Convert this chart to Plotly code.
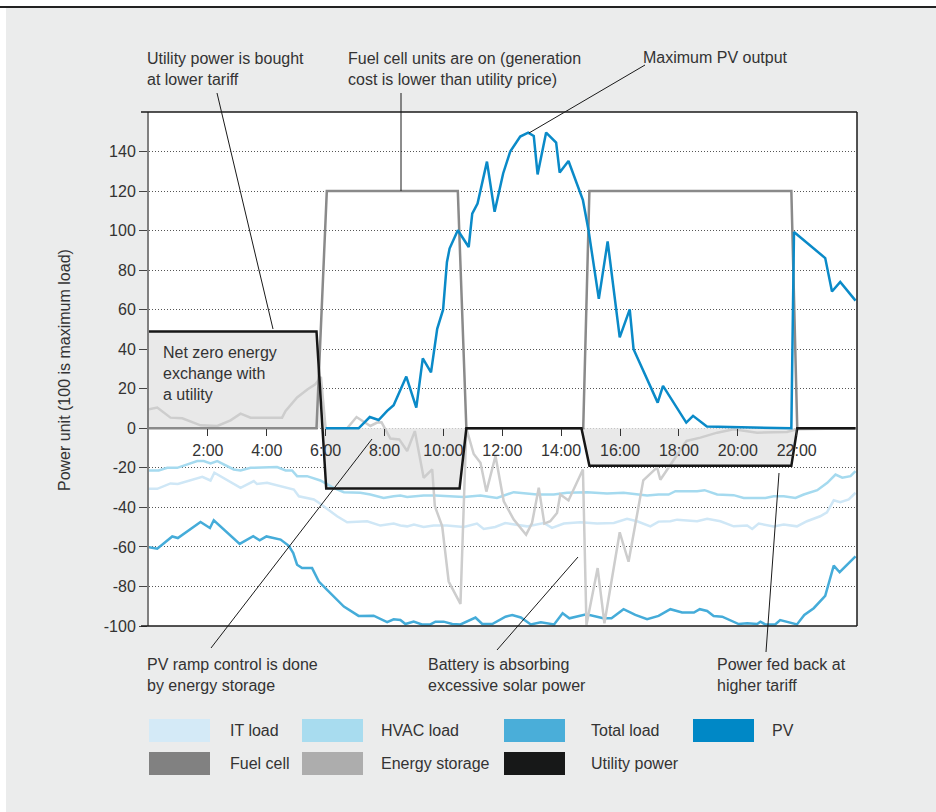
import plotly.graph_objects as go

# ---------------- data (hours, power units) ----------------
it_t = [0, 0.28, 0.73, 0.98, 1.81, 2.09, 2.22, 3.11, 3.56, 3.67, 4.01, 4.52, 4.92, 5.09, 5.6, 5.82, 6.39, 6.73,
        7.41, 7.86, 8.31, 8.54, 8.77, 9.0, 9.33, 9.67, 10.12, 10.69, 11.14, 11.37, 11.76, 12.1, 12.39, 12.84,
        13.41, 13.69, 14.09, 14.65, 15.22, 15.79, 16.24, 16.58, 17.03, 17.31, 17.71, 17.94, 18.62, 18.96, 19.41,
        19.86, 20.32, 20.49, 20.71, 21.22, 21.56, 22.01, 22.35, 22.8, 23.03, 23.26, 23.48, 23.77, 24.0]
it_v = [-30.6, -30.6, -27.9, -28.2, -24.5, -26.4, -22.5, -30.1, -26.7, -28.2, -27.6, -29.3, -31, -34.4, -36, -38.2,
        -44.5, -47.5, -47, -49.2, -48.2, -49.2, -49.6, -48.7, -49.9, -49.2, -49.2, -49.9, -48.2, -50.9, -49.9,
        -47.9, -48.7, -49.6, -47.9, -50.4, -48.2, -47.5, -48.2, -47.9, -45.8, -47, -49.6, -47.2, -47, -46.2, -47,
        -45.8, -47, -49.6, -49.2, -50.9, -48.2, -49.6, -48.7, -49.6, -47, -44.5, -42.5, -36.4, -37.4, -36, -32.6]

hvac_t = [0, 0.33, 0.62, 0.96, 1.64, 1.86, 2.09, 2.32, 2.88, 3.11, 3.45, 4.35, 4.64, 4.86, 5.03, 5.37, 5.82, 6.27,
          6.62, 7.18, 7.52, 7.97, 8.31, 8.54, 8.77, 9.33, 9.73, 10.69, 11.26, 11.82, 12.39, 13.18, 13.75, 14.2,
          14.88, 15.56, 16.12, 16.41, 16.92, 17.31, 17.65, 17.88, 18.62, 18.87, 19.3, 19.86, 20.2, 20.94, 21.22,
          21.56, 21.96, 22.24, 22.7, 23.04, 23.32, 23.55, 23.83, 24.0]
hvac_v = [-21.3, -21.3, -20, -20, -16.6, -16.6, -17.8, -16.6, -20.8, -21.3, -20, -19.6, -21.3, -21.3, -24.2, -24.2,
          -26.4, -30.1, -32.3, -32.6, -33.5, -35.2, -34.4, -34, -34.7, -34, -34, -34.7, -34, -35.2, -32.3, -33.5,
          -33.5, -32.6, -32.3, -33, -32.6, -33, -34, -33.5, -33.5, -31.8, -31.8, -31.3, -33.5, -33.8, -35.2, -35.2,
          -34.4, -34.4, -35.2, -33.5, -31.3, -27.6, -23.4, -25, -24.2, -21.7]

total_t = [0, 0.28, 0.79, 0.98, 1.75, 2.07, 2.2, 3.08, 3.54, 3.76, 3.99, 4.47, 4.75, 4.9, 5.03, 5.2, 5.54, 5.77,
           6.05, 6.62, 7.12, 7.63, 8.09, 8.31, 8.54, 8.71, 8.99, 9.27, 9.56, 9.73, 10.01, 10.3, 10.58, 11.09,
           11.32, 11.66, 12.11, 12.34, 12.63, 12.97, 13.31, 13.76, 14.05, 14.28, 14.86, 15.43, 15.71, 16.12,
           16.52, 16.92, 17.31, 17.71, 18.11, 18.51, 18.71, 18.96, 19.18, 19.47, 20.03, 20.32, 20.66, 20.77,
           20.93, 21.27, 21.44, 22.01, 22.26, 22.58, 22.97, 23.26, 23.46, 24.0]
total_v = [-60.2, -60.9, -54.7, -55.5, -47.4, -50.4, -46.5, -58.5, -54.6, -56.7, -54.7, -56.3, -59.4, -63.1, -69,
           -70.7, -70.7, -77.5, -81.7, -90.2, -94.9, -94.8, -98.1, -96.6, -97, -99, -97.8, -99.2, -99.2, -97.8,
           -97.8, -99, -99.2, -95.7, -99, -99, -95.3, -94.4, -95.7, -99.2, -98.1, -99.2, -93.6, -96.1, -94.1,
           -96.1, -96.1, -91.5, -94.4, -96.6, -94.9, -91.5, -93.2, -93.2, -91.5, -92.4, -94.9, -95.3, -99, -98.6,
           -99, -97.8, -99.2, -99.2, -97, -99.2, -94.4, -91, -84.8, -69.5, -72.8, -64.8]

pv_t = [6.0, 7.12, 7.5, 7.8, 8.09, 8.31, 8.74, 9.08, 9.3, 9.58, 9.79, 9.99, 10.12, 10.21, 10.49, 10.86, 10.98,
        11.16, 11.48, 11.74, 12.03, 12.27, 12.61, 12.88, 13.07, 13.2, 13.49, 13.83, 13.95, 14.25, 14.74, 14.93,
        15.28, 15.58, 15.99, 16.33, 16.46, 17.28, 17.46, 18.25, 18.48, 18.95, 21.82, 21.91, 22.97, 23.2, 23.48,
        24.0]
pv_v = [0, 0, 5.7, 4.2, 8.8, 11.7, 26.2, 10.5, 35.4, 28.3, 50.3, 60, 84, 90.9, 100.2, 91.7, 108.6, 113.7, 134.9,
        109.5, 128.9, 140, 147.6, 149.6, 147.9, 128.4, 149.6, 144.5, 129.4, 135.2, 115.4, 100.2, 65.5, 94.5, 46,
        60.2, 40, 13, 21.5, 2.9, 6.3, 0.9, 0, 99.3, 86.1, 69.2, 74, 64.6]

storage_t = [0, 0.28, 0.73, 1.13, 1.75, 2.32, 2.77, 3.11, 3.45, 3.9, 4.52, 4.64, 5.03, 5.39, 5.54, 5.65, 5.84,
             6.0, 6.73, 7.05, 7.52, 7.75, 7.9, 8.2, 8.5, 8.77, 9.03, 9.33, 9.62, 9.71, 9.96, 10.18, 10.58, 10.78,
             11.03, 11.26, 11.46, 11.77, 12.05, 12.39, 12.81, 13.01, 13.24, 13.43, 13.63, 13.86, 13.97, 14.25,
             14.74, 14.86, 15.24, 15.47, 15.99, 16.29, 16.79, 17.26, 17.37, 17.91, 18.26, 18.73, 19.3, 19.86,
             20.66, 21.67, 22.01, 24.0]
storage_v = [9.6, 10.5, 5.4, 5.1, 1.5, 1.2, 4, 7.4, 5.4, 5.4, 5.4, 8.8, 15.6, 19.8, 21.5, 22.3, 26, 0, 0, 5.7,
             1.2, 2.9, 3, -5.2, -5.6, -11.5, -1.4, -25, -20.8, -39.4, -49.6, -77.5, -88.8, 0, -13, -17.4, -32,
             -14, -36.9, -46.2, -53.8, -47.9, -30.1, -48.2, -47, -42.8, -33.5, -36.5, -20.8, -99.5, -70.7, -98.6,
             -52.6, -67.5, -26.3, -19.8, -26, -14, -6.4, -4.7, -2.2, -0.5, -2.2, -1.9, -0.5, 0]

fuel_t = [0, 5.69, 6.04, 10.49, 10.78, 14.75, 14.96, 21.82, 22.02, 24.0]
fuel_v = [0, 0, 120, 120, 0, 0, 120, 120, 0, 0]

utility_t = [0, 5.69, 6.02, 10.55, 10.78, 14.69, 14.96, 21.82, 22.02, 24.0]
utility_v = [49, 49, -30.5, -30.5, 0, 0, -19, -19, 0, 0]

tick_hours = [2, 4, 6, 8, 10, 12, 14, 16, 18, 20, 22]
tick_labels = ["2:00", "4:00", "6:00", "8:00", "10:00", "12:00", "14:00", "16:00", "18:00", "20:00", "22:00"]
y_ticks = [-100, -80, -60, -40, -20, 0, 20, 40, 60, 80, 100, 120, 140]
y_tick_labels = ["-100", "-80", "-60", "-40", "-20", "0", "20", "40", "60", "80", "100", "120", "140"]

legend_names = ["IT load", "HVAC load", "Total load", "PV", "Fuel cell", "Energy storage", "Utility power"]
legend_colors = ["#d4eaf7", "#a8dcef", "#4aaed9", "#0088c6", "#818181", "#adadad", "#171818"]

# ---------------- layout helpers (pixel -> paper) ----------------
W, H = 936, 812
L, R, T, B = 149, 857, 112, 626


def px(x):
    return (x - L) / (R - L)


def py(y):
    return (B - y) / (B - T)


FONT = "Liberation Sans, Arial, sans-serif"
TXT = "#333333"

fig = go.Figure()

# fill of utility exchange
fig.add_trace(go.Scatter(x=utility_t, y=utility_v, mode="lines", fill="tozeroy",
                         fillcolor="#e9e9e9", line=dict(width=0), hoverinfo="skip"))
line_w = 2.5
fig.add_trace(go.Scatter(x=it_t, y=it_v, mode="lines", line=dict(color="#cfe7f6", width=line_w)))
fig.add_trace(go.Scatter(x=hvac_t, y=hvac_v, mode="lines", line=dict(color="#a5daef", width=line_w)))
fig.add_trace(go.Scatter(x=total_t, y=total_v, mode="lines", line=dict(color="#45acd9", width=line_w)))
fig.add_trace(go.Scatter(x=storage_t, y=storage_v, mode="lines", line=dict(color="#cdcdcd", width=line_w)))
fig.add_trace(go.Scatter(x=fuel_t, y=fuel_v, mode="lines", line=dict(color="#8a8a8a", width=line_w)))
fig.add_trace(go.Scatter(x=pv_t, y=pv_v, mode="lines", line=dict(color="#0a8ac8", width=line_w)))
fig.add_trace(go.Scatter(x=utility_t, y=utility_v, mode="lines", line=dict(color="#161616", width=line_w)))

shapes = []
# white strips outside the gray panel
shapes.append(dict(type="rect", xref="paper", yref="paper", x0=px(0), x1=px(W), y0=py(0), y1=py(7),
                   fillcolor="white", line=dict(width=0), layer="below"))
shapes.append(dict(type="rect", xref="paper", yref="paper", x0=px(0), x1=px(6), y0=py(0), y1=py(H),
                   fillcolor="white", line=dict(width=0), layer="below"))
shapes.append(dict(type="line", xref="paper", yref="paper", x0=px(0), x1=px(W), y0=py(7), y1=py(7),
                   line=dict(color="#222222", width=2)))
# frame
shapes.append(dict(type="line", xref="paper", yref="paper", x0=px(141), x1=1, y0=1, y1=1,
                   line=dict(color="#1a1a1a", width=1.5)))
shapes.append(dict(type="line", xref="paper", yref="paper", x0=px(141), x1=1, y0=0, y1=0,
                   line=dict(color="#1a1a1a", width=1.5)))
shapes.append(dict(type="line", xref="paper", yref="paper", x0=1, x1=1, y0=0, y1=1,
                   line=dict(color="#1a1a1a", width=1.5)))
# leader lines
leaders = [((217, 93), (273, 329)), ((401, 93), (401, 191)), ((645, 65), (529, 133)),
           ((211, 648), (372, 439)), ((497, 650), (578, 557)), ((766, 652), (779, 473))]
for (x0, y0), (x1, y1) in leaders:
    shapes.append(dict(type="line", xref="paper", yref="paper", x0=px(x0), y0=py(y0), x1=px(x1), y1=py(y1),
                       line=dict(color="#1a1a1a", width=1)))
# legend swatches
sw_x = [149, 302, 504, 693]
sw_y = [719, 752]
for i, c in enumerate(legend_colors):
    r, col = divmod(i, 4)
    shapes.append(dict(type="rect", xref="paper", yref="paper", x0=px(sw_x[col]), x1=px(sw_x[col] + 61),
                       y0=py(sw_y[r]), y1=py(sw_y[r] + 23), fillcolor=c, line=dict(width=0)))

annotations = []


def note(text, x, y, size=16):
    annotations.append(dict(text=text, xref="paper", yref="paper", x=px(x), y=py(y), xanchor="left",
                            yanchor="middle", align="left", showarrow=False,
                            font=dict(family=FONT, size=size, color=TXT)))


note("Utility power is bought<br>at lower tariff", 145, 69)
note("Fuel cell units are on (generation<br>cost is lower than utility price)", 346, 69)
note("Maximum PV output", 641, 58)
note("PV ramp control is done<br>by energy storage", 145, 675)
note("Battery is absorbing<br>excessive solar power", 426, 675)
note("Power fed back at<br>higher tariff", 715, 675)
note("Net zero energy<br>exchange with<br>a utility", 161, 373)

lab_x = [228, 379, 589, 770]
for i, n in enumerate(legend_names):
    r, col = divmod(i, 4)
    note(n, lab_x[col], sw_y[r] + 11)

annotations.append(dict(text="Power unit (100 is maximum load)", xref="paper", yref="paper", x=px(64),
                        y=py(370), textangle=-90, showarrow=False, xanchor="center", yanchor="middle",
                        font=dict(family=FONT, size=16, color=TXT)))

fig.update_layout(
    width=W, height=H, autosize=False,
    margin=dict(l=L, r=W - R, t=T, b=H - B, pad=0),
    paper_bgcolor="#ebecec", plot_bgcolor="white",
    showlegend=False, hovermode=False,
    shapes=shapes, annotations=annotations,
    font=dict(family=FONT, size=16, color=TXT),
    xaxis=dict(range=[0, 24.05], tickvals=tick_hours, ticktext=tick_labels, showgrid=False, zeroline=False,
               showline=False, anchor="free", position=100 / 260, ticks="outside", ticklen=7,
               tickcolor="#333333", tickwidth=1, tickfont=dict(family=FONT, size=16, color=TXT)),
    yaxis=dict(range=[-100, 160], tickvals=y_ticks, ticktext=y_tick_labels, showgrid=True,
               gridcolor="#555555", griddash="1px,2px",
               gridwidth=1, zeroline=False, showline=True, linecolor="#808080", linewidth=2,
               ticks="outside", ticklen=8, tickcolor="#444444", tickwidth=1,
               tickfont=dict(family=FONT, size=16, color=TXT)),
)

fig.write_html("out.html", config={"displayModeBar": False},
               post_script="document.body.style.margin='0';document.body.style.overflow='hidden';")
